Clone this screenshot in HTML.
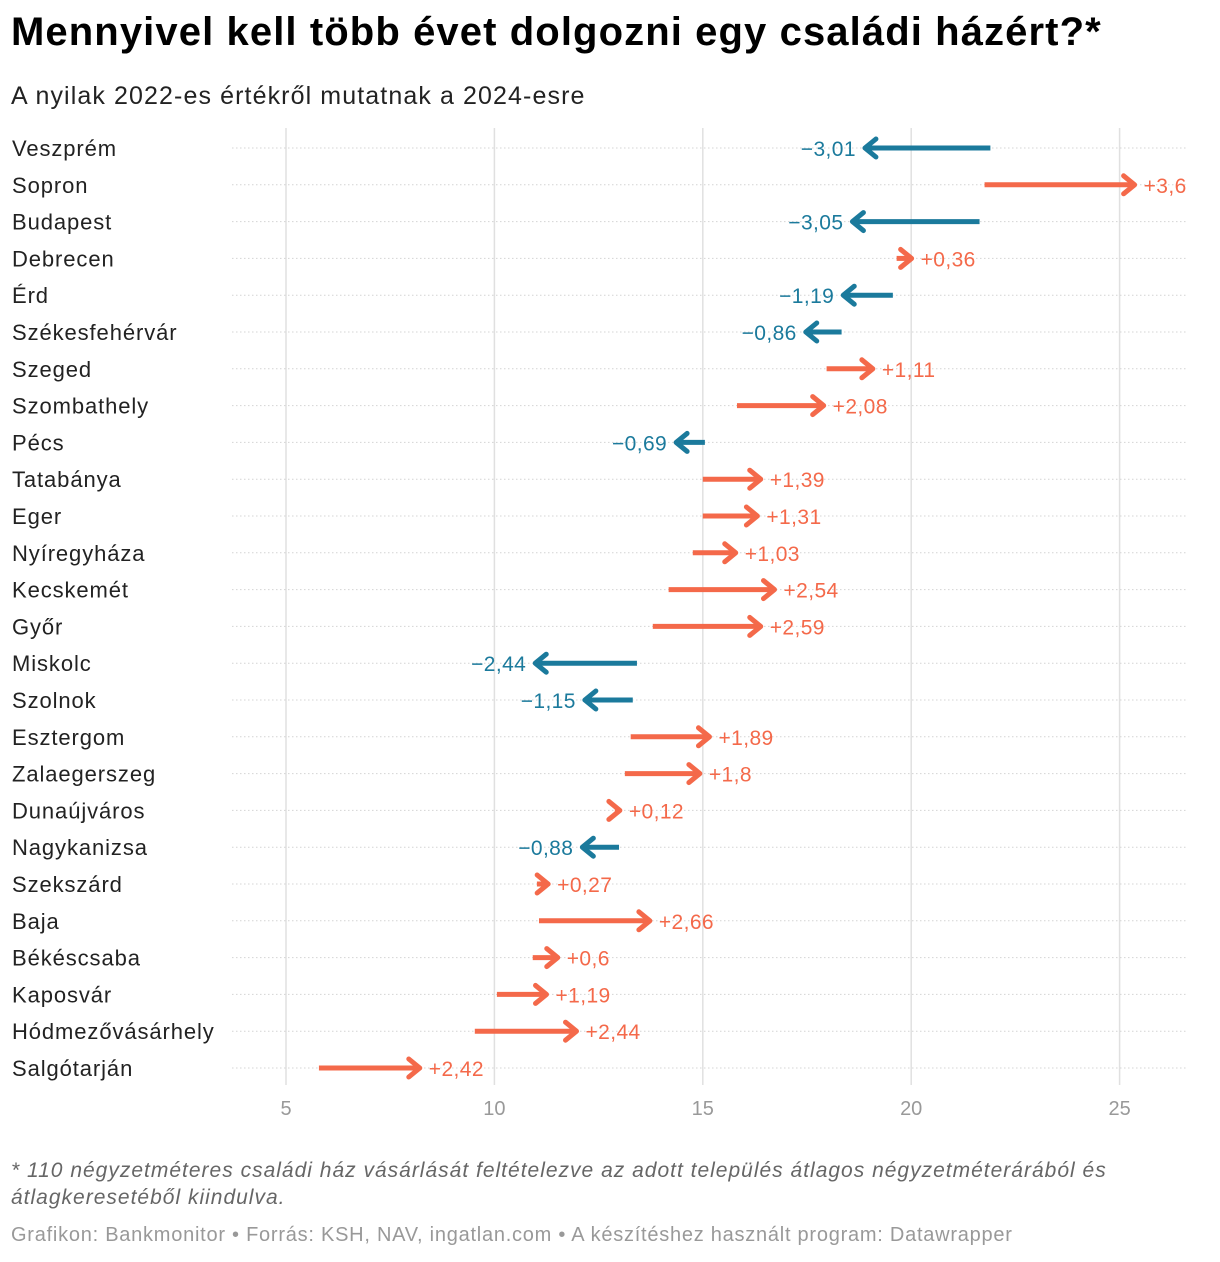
<!DOCTYPE html>
<html><head><meta charset="utf-8"><style>
body{margin:0;background:#fff;width:1220px;height:1262px;overflow:hidden;font-family:"Liberation Sans",sans-serif}
h1{position:absolute;left:11px;top:10px;margin:0;font-size:40px;font-weight:bold;color:#000;letter-spacing:1.1px}
.sub{position:absolute;left:11px;top:82px;font-size:25px;color:#222;letter-spacing:1.1px}
.note{position:absolute;left:11px;top:1157px;font-size:21px;font-style:italic;color:#666;width:1140px;line-height:27px;letter-spacing:1px}
.src{position:absolute;left:11px;top:1224px;font-size:20px;color:#999;letter-spacing:0.75px}
</style></head><body>
<h1>Mennyivel kell több évet dolgozni egy családi házért?*</h1>
<div class="sub">A nyilak 2022-es értékről mutatnak a 2024-esre</div>
<svg id="chart" width="1220" height="1262" style="position:absolute;left:0;top:0"></svg>
<div class="note">* 110 négyzetméteres családi ház vásárlását feltételezve az adott település átlagos négyzetméterárából és átlagkeresetéből kiindulva.</div>
<div class="src">Grafikon: Bankmonitor • Forrás: KSH, NAV, ingatlan.com • A készítéshez használt program: Datawrapper</div>
<script>
const cities=["Veszprém","Sopron","Budapest","Debrecen","Érd","Székesfehérvár","Szeged","Szombathely","Pécs","Tatabánya","Eger","Nyíregyháza","Kecskemét","Győr","Miskolc","Szolnok","Esztergom","Zalaegerszeg","Dunaújváros","Nagykanizsa","Szekszárd","Baja","Békéscsaba","Kaposvár","Hódmezővásárhely","Salgótarján"];
const start2022=[21.9,21.76,21.64,19.65,19.56,18.33,17.97,15.82,15.05,15.0,15.0,14.76,14.18,13.8,13.42,13.32,13.27,13.13,12.89,12.99,11.02,11.07,10.92,10.06,9.53,5.79];
const changes=[-3.01,3.6,-3.05,0.36,-1.19,-0.86,1.11,2.08,-0.69,1.39,1.31,1.03,2.54,2.59,-2.44,-1.15,1.89,1.8,0.12,-0.88,0.27,2.66,0.6,1.19,2.44,2.42];
const changeLabels=["−3,01","+3,6","−3,05","+0,36","−1,19","−0,86","+1,11","+2,08","−0,69","+1,39","+1,31","+1,03","+2,54","+2,59","−2,44","−1,15","+1,89","+1,8","+0,12","−0,88","+0,27","+2,66","+0,6","+1,19","+2,44","+2,42"];
const ticks=[5,10,15,20,25];
const svg=document.getElementById('chart');const NS='http://www.w3.org/2000/svg';
const x=v=>286+(v-5)*41.68;
const y=i=>148+i*36.8;
function mk(t,a){const e=document.createElementNS(NS,t);for(const k in a)e.setAttribute(k,a[k]);svg.appendChild(e);return e;}
ticks.forEach(t=>{
 const l=mk('line',{x1:x(t),x2:x(t),y1:128,y2:1085,stroke:'#e0e0e0','stroke-width':1.5});
 
 
 const tx=mk('text',{x:x(t),y:1115,'text-anchor':'middle','font-size':20,fill:'#999','font-family':'Liberation Sans, sans-serif'});tx.textContent=t;
 
 
});
cities.forEach((c,i)=>{
 const yy=y(i);
 const g=mk('line',{x1:232,x2:1186,y1:yy,y2:yy,stroke:'#d4d4d4','stroke-width':1,'stroke-dasharray':'1.5 2.5'});
 
 
 const lb=mk('text',{x:12,y:yy+8,'font-size':22,fill:'#222','letter-spacing':0.9,'font-family':'Liberation Sans, sans-serif'});lb.textContent=c;
 
 
 const s=start2022[i],e=s+changes[i],up=changes[i]>0;
 const col=up?'#f4694a':'#1b7a9c';
 const x0=x(s),x1=x(e),d=up?1:-1;
 const ln=mk('line',{x1:x0,x2:x1-d*2,y1:yy,y2:yy,stroke:col,'stroke-width':5});
 
 
 const hd=mk('polyline',{points:`${x1-d*11},${yy-9} ${x1},${yy} ${x1-d*11},${yy+9}`,fill:'none',stroke:col,'stroke-width':5,'stroke-linecap':'round','stroke-linejoin':'round'});
 
 
 const vt=mk('text',{x:x1+d*9,y:yy+8,'font-size':21,'letter-spacing':0.4,fill:col,'text-anchor':up?'start':'end','font-family':'Liberation Sans, sans-serif'});vt.textContent=changeLabels[i];
 
 
});
</script>
</body></html>
